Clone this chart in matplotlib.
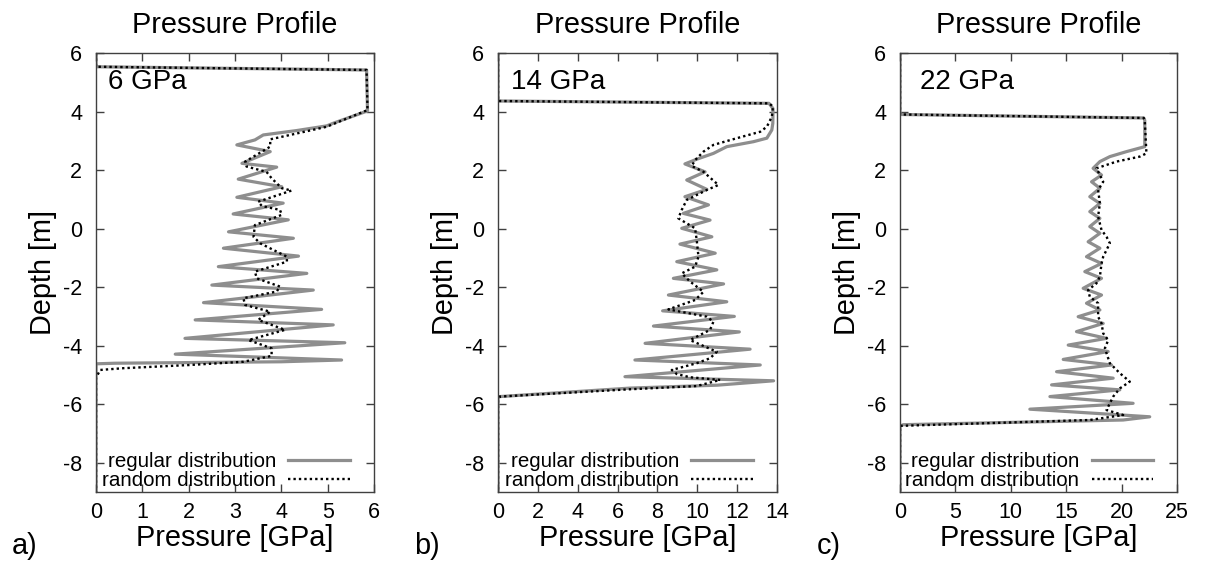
import matplotlib
matplotlib.use("Agg")
import matplotlib.pyplot as plt

plt.rcParams['font.family'] = ['Liberation Sans', 'DejaVu Sans']
plt.rcParams['axes.unicode_minus'] = False

# ---------------- data (pressure [GPa], depth [m]) ----------------
# panel a) 6 GPa
a_reg_p = [0, 0, 5.84, 5.86, 5.12, 4.98, 4.33, 3.61, 3.43, 3.04, 3.76, 3.15, 3.90, 3.07, 4.01,
           3.04, 4.04, 2.96, 4.15, 2.86, 4.26, 2.75, 4.37, 2.64, 4.55, 2.50, 4.69, 2.32, 4.87,
           2.14, 5.12, 1.92, 5.37, 1.71, 5.30, 4.0, 0.41, 0, 0]
a_reg_d = [6, 5.53, 5.42, 4.02, 3.60, 3.51, 3.35, 3.20, 3.03, 2.86, 2.63, 2.23, 2.10, 1.69, 1.43,
           1.07, 0.87, 0.50, 0.30, -0.11, -0.33, -0.67, -0.94, -1.30, -1.53, -1.93, -2.10, -2.53, -2.76,
           -3.12, -3.29, -3.75, -3.90, -4.29, -4.49, -4.55, -4.60, -4.62, -9]
a_rnd_p = [0, 0, 5.84, 5.86, 4.98, 4.19, 3.76, 3.76, 3.22, 3.25, 3.68, 3.79, 4.01, 4.22, 3.50,
           3.58, 3.97, 4.01, 3.43, 3.40, 3.54, 4.12, 4.12, 3.43, 3.47, 3.97, 3.90, 3.18, 3.22,
           3.76, 3.50, 4.08, 3.29, 3.79, 3.79, 3.18, 2.03, 0.59, 0.09, 0, 0]
a_rnd_d = [6, 5.53, 5.42, 4.05, 3.48, 3.20, 3.05, 2.80, 2.29, 2.12, 1.94, 1.72, 1.38, 1.30, 0.92,
           0.77, 0.64, 0.47, 0.12, -0.28, -0.50, -0.96, -1.13, -1.47, -1.70, -1.98, -2.15, -2.38, -2.61,
           -2.84, -3.12, -3.46, -3.81, -4.09, -4.35, -4.55, -4.66, -4.77, -4.83, -5.1, -9]

# panel b) 14 GPa
b_reg_p = [0, 0, 13.6, 13.8, 13.79, 13.74, 13.49, 12.82, 11.48, 10.81, 9.97, 9.38, 10.39, 9.47,
           10.48, 9.38, 10.56, 9.30, 10.64, 9.22, 10.73, 9.13, 10.90, 8.97, 10.98, 8.80, 11.32,
           8.55, 11.48, 8.26, 11.86, 7.80, 12.11, 7.38, 12.65, 6.87, 13.16, 6.37, 13.83, 11.0,
           6.62, 0.08, 0, 0]
b_reg_d = [6, 4.36, 4.28, 4.10, 3.60, 3.37, 3.09, 2.97, 2.80, 2.57, 2.37, 2.21, 1.94, 1.66,
           1.34, 1.09, 0.81, 0.52, 0.29, 0.01, -0.28, -0.53, -0.84, -1.13, -1.41, -1.70, -1.89,
           -2.27, -2.50, -2.81, -3.00, -3.33, -3.53, -3.92, -4.12, -4.49, -4.66, -5.06, -5.20, -5.35,
           -5.45, -5.74, -5.80, -9]
b_rnd_p = [0, 0, 13.6, 13.80, 13.74, 13.49, 13.16, 11.99, 10.81, 10.31, 9.89, 9.72, 10.31, 11.06,
           10.48, 9.47, 9.22, 9.05, 9.89, 9.97, 10.06, 9.89, 9.22, 9.64, 10.31, 9.89, 8.55, 10.48,
           10.81, 10.64, 9.64, 10.98, 10.64, 9.97, 8.72, 8.97, 9.64, 11.15, 9.97, 6.62, 0.08, 0, 0]
b_rnd_d = [6, 4.36, 4.28, 4.17, 3.82, 3.48, 3.31, 3.09, 2.86, 2.63, 2.34, 2.14, 1.94, 1.49,
           1.32, 0.98, 0.64, 0.35, 0.01, -0.39, -0.96, -1.30, -1.53, -1.81, -2.16, -2.44, -2.76, -3.01,
           -3.18, -3.46, -3.81, -4.21, -4.43, -4.60, -4.83, -4.97, -5.08, -5.17, -5.38, -5.49, -5.74,
           -5.86, -9]

# panel c) 22 GPa
c_reg_p = [0, 0, 22.0, 22.09, 22.09, 20.44, 18.94, 18.04, 17.43, 18.19, 17.29, 18.04, 17.13, 18.04,
           17.13, 18.04, 17.13, 18.04, 16.98, 18.04, 16.83, 18.19, 16.68, 18.19, 16.53, 18.19, 16.83,
           18.04, 16.08, 18.34, 15.93, 18.64, 15.18, 18.79, 14.73, 19.09, 14.13, 19.24, 13.68, 19.84,
           13.53, 21.04, 11.72, 22.54, 20.14, 0.3, 0, 0]
c_reg_d = [6, 3.90, 3.78, 3.70, 2.80, 2.63, 2.46, 2.29, 2.06, 1.83, 1.60, 1.38, 1.09, 0.86,
           0.58, 0.35, 0.07, -0.16, -0.45, -0.67, -0.96, -1.19, -1.47, -1.70, -2.04, -2.27, -2.55,
           -2.78, -3.01, -3.24, -3.52, -3.75, -3.98, -4.20, -4.47, -4.66, -4.89, -5.11, -5.34, -5.51,
           -5.74, -5.97, -6.17, -6.43, -6.54, -6.70, -6.75, -9]
c_rnd_p = [0, 0, 22.0, 22.09, 22.24, 21.64, 19.54, 17.73, 18.04, 18.34, 17.88, 18.04, 17.88, 18.19,
           18.64, 18.94, 18.64, 18.34, 18.19, 18.04, 17.73, 16.98, 17.13, 17.88, 17.88, 18.19, 18.34,
           18.79, 18.49, 18.94, 19.84, 20.74, 19.84, 19.24, 18.94, 18.64, 20.14, 17.13, 0, 0]
c_rnd_d = [6, 3.90, 3.78, 3.70, 2.57, 2.46, 2.29, 2.06, 1.83, 1.60, 1.32, 0.86, 0.41, -0.05,
           -0.28, -0.50, -0.73, -0.96, -1.19, -1.64, -1.87, -2.10, -2.33, -2.55, -3.01, -3.24, -3.58,
           -3.81, -4.09, -4.60, -4.94, -5.23, -5.46, -5.74, -5.97, -6.20, -6.37, -6.54, -6.74, -9]

panel_tags = ["a)", "b)", "c)"]
load_labels = ["6 GPa", "14 GPa", "22 GPa"]
x_limits = [(0, 6), (0, 14), (0, 25)]
x_tick_steps = [1, 2, 5]
y_ticks = [-8, -6, -4, -2, 0, 2, 4, 6]
series_labels = ["regular distribution", "random distribution"]

panels = [(a_reg_p, a_reg_d, a_rnd_p, a_rnd_d),
          (b_reg_p, b_reg_d, b_rnd_p, b_rnd_d),
          (c_reg_p, c_reg_d, c_rnd_p, c_rnd_d)]

# ---------------- layout ----------------
W, H = 1208, 565
fig = plt.figure(figsize=(W / 100, H / 100), dpi=100)
ax_left_px = [96, 498, 900]
ax_width_px = [278, 279, 277]
ax_top_px, ax_bot_px = 53, 492
tag_x_px = [12, 414, 817]
note_x = [0.043, 0.048, 0.072]

gray = '#8e8e8e'
spine_col = '#404040'

for i in range(3):
    ax = fig.add_axes([ax_left_px[i] / W, (H - ax_bot_px) / H,
                       ax_width_px[i] / W, (ax_bot_px - ax_top_px) / H])
    rp, rd, np_, nd = panels[i]
    ax.plot(rp, rd, color=gray, lw=2.3, solid_joinstyle='round', label=series_labels[0])
    ax.plot(np_, nd, color='black', lw=1.7, linestyle=(0, (1, 1.3)), dash_capstyle='butt',
            label=series_labels[1])
    x0, x1 = x_limits[i]
    ax.set_xlim(x0, x1)
    ax.set_ylim(-9, 6)
    ax.set_xticks(list(range(x0, x1 + 1, x_tick_steps[i])))
    ax.set_yticks(y_ticks)
    ax.tick_params(direction='in', top=True, right=True, length=6, width=1,
                   color=spine_col, labelsize=15.5)
    ax.tick_params(axis='y', pad=10)
    ax.tick_params(axis='x', pad=7)
    for s in ax.spines.values():
        s.set_color(spine_col)
        s.set_linewidth(1.0)
    ax.set_title("Pressure Profile", fontsize=20.8, pad=14.5)
    ax.set_xlabel("Pressure [GPa]", fontsize=20.8, va='baseline')
    ax.xaxis.set_label_coords(0.5, (ax_bot_px - 546) / (ax_bot_px - ax_top_px))
    ax.set_ylabel("Depth [m]", fontsize=20.8, va='baseline')
    ax.yaxis.set_label_coords(-0.162, 0.5)
    ax.text(note_x[i], 0.918, load_labels[i], transform=ax.transAxes, fontsize=20,
            va='baseline', ha='left')
    ax.legend(loc='lower right', bbox_to_anchor=(0.914, 0.005), frameon=False,
              markerfirst=False, fontsize=14.8, handlelength=3.0, handletextpad=0.6,
              labelspacing=0.0, borderpad=0.0, borderaxespad=0.0)
    fig.text(tag_x_px[i] / W, (H - 554) / H, panel_tags[i], fontsize=20.8,
             ha='left', va='baseline')

fig.savefig("out.png", dpi=100)
